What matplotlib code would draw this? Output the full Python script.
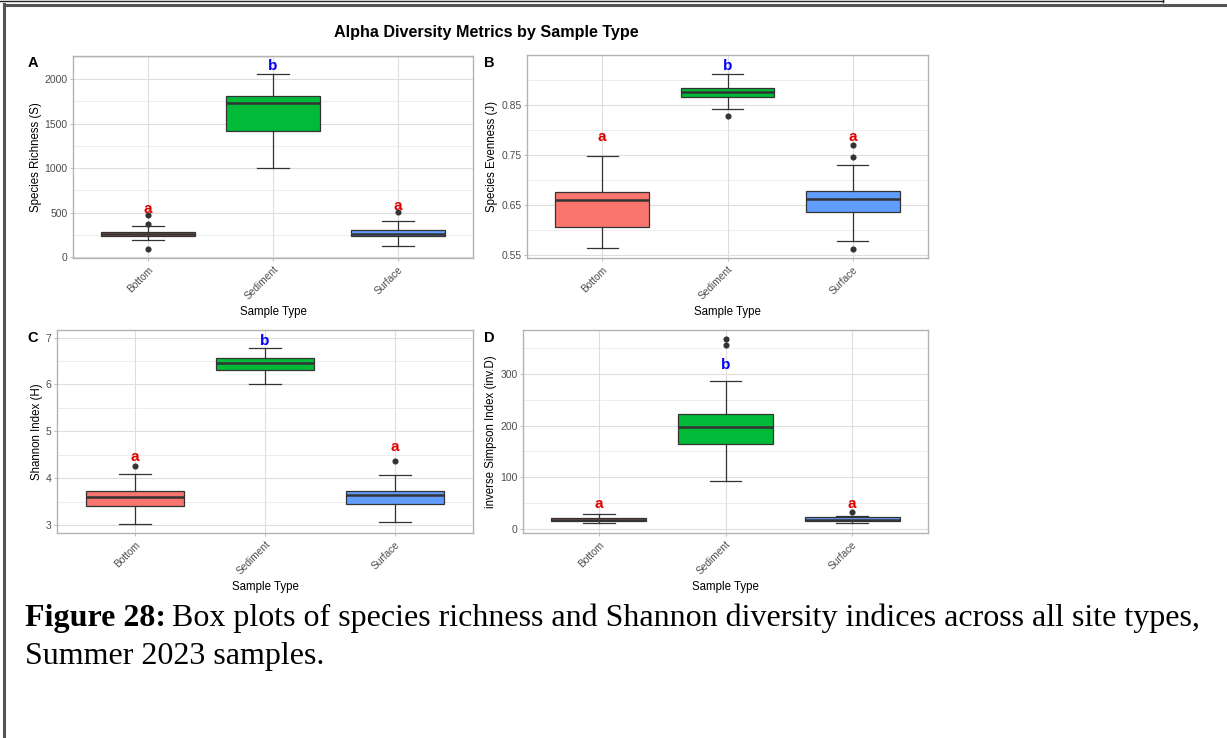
import matplotlib
matplotlib.use("Agg")
import matplotlib.pyplot as plt
from matplotlib.ticker import MultipleLocator
from matplotlib.lines import Line2D

W, H = 1227, 738

sample_types = ["Bottom", "Sediment", "Surface"]
fill_colors = ["#F8766D", "#00BA38", "#619CFF"]

# per-metric box statistics: q1, median, q3, lower whisker, upper whisker, outliers
richness_q1 = [232, 1412, 232]
richness_med = [255, 1730, 258]
richness_q3 = [277, 1809, 300]
richness_lo = [187, 997, 127]
richness_hi = [345, 2056, 404]
richness_out = [[90, 374, 472], [], [502]]
richness_letters = ["a", "b", "a"]
richness_letter_y = [545, 2150, 570]

evenness_q1 = [0.606, 0.865, 0.636]
evenness_med = [0.661, 0.875, 0.663]
evenness_q3 = [0.677, 0.883, 0.679]
evenness_lo = [0.565, 0.841, 0.579]
evenness_hi = [0.748, 0.911, 0.731]
evenness_out = [[], [0.828], [0.563, 0.746, 0.769]]
evenness_letters = ["a", "b", "a"]
evenness_letter_y = [0.786, 0.928, 0.786]

shannon_q1 = [3.40, 6.30, 3.45]
shannon_med = [3.60, 6.46, 3.64]
shannon_q3 = [3.72, 6.57, 3.73]
shannon_lo = [3.02, 6.00, 3.06]
shannon_hi = [4.09, 6.77, 4.07]
shannon_out = [[4.26], [], [4.37]]
shannon_letters = ["a", "b", "a"]
shannon_letter_y = [4.46, 6.92, 4.66]

invsimpson_q1 = [14.2, 164.7, 14.9]
invsimpson_med = [16.8, 197.7, 17.4]
invsimpson_q3 = [20.7, 223.5, 22.0]
invsimpson_lo = [10.3, 91.7, 10.3]
invsimpson_hi = [28.5, 286.8, 23.9]
invsimpson_out = [[], [356.0, 367.6], [31.6]]
invsimpson_letters = ["a", "b", "a"]
invsimpson_letter_y = [48, 317, 48]

letter_colors = {"a": "#E00000", "b": "#0000FF"}

plt.rcParams["font.family"] = ["Liberation Sans", "DejaVu Sans"]

fig = plt.figure(figsize=(W / 100, H / 100), dpi=100)
fig.patch.set_facecolor("white")


def px_axes(x0, y0, x1, y1):
    return fig.add_axes([x0 / W, 1 - y1 / H, (x1 - x0) / W, (y1 - y0) / H])


def draw_panel(ax, q1, med, q3, lo, hi, out, letters, letter_y,
               ylabel, ylim, major, minor, fmt=None):
    stats = []
    for i in range(3):
        stats.append(dict(q1=q1[i], med=med[i], q3=q3[i],
                          whislo=lo[i], whishi=hi[i], fliers=out[i]))
    pos = [1, 2, 3]
    bp = ax.bxp(stats, positions=pos, widths=0.75, capwidths=0.25,
                patch_artist=True, showfliers=True,
                boxprops=dict(edgecolor="#333333", linewidth=0.9),
                medianprops=dict(color="#333333", linewidth=1.8),
                whiskerprops=dict(color="#333333", linewidth=0.9),
                capprops=dict(color="#333333", linewidth=0.9),
                flierprops=dict(marker="o", markersize=3.4,
                                markerfacecolor="#333333",
                                markeredgecolor="#333333"),
                zorder=3)
    for patch, c in zip(bp["boxes"], fill_colors):
        patch.set_facecolor(c)
    for i, (lt, ly) in enumerate(zip(letters, letter_y)):
        ax.text(pos[i], ly, lt, color=letter_colors[lt], fontsize=11,
                fontweight="bold", ha="center", va="center", zorder=4)

    ax.set_xlim(0.4, 3.6)
    ax.set_ylim(*ylim)
    ax.yaxis.set_major_locator(MultipleLocator(major))
    ax.yaxis.set_minor_locator(MultipleLocator(minor))
    if fmt:
        ax.yaxis.set_major_formatter(fmt)
    ax.set_xticks(pos)
    ax.set_xticklabels(sample_types, rotation=45, ha="right", va="top",
                       rotation_mode="anchor", fontsize=7.3, color="#4D4D4D")
    ax.tick_params(axis="x", pad=2)
    ax.tick_params(axis="y", labelsize=7.5, labelcolor="#4D4D4D", pad=1.5)
    ax.tick_params(which="both", length=2.5, color="#B3B3B3", width=0.6)
    ax.tick_params(which="minor", length=0)
    ax.grid(which="major", color="#DEDEDE", linewidth=0.8)
    ax.grid(which="minor", axis="y", color="#E6E6E6", linewidth=0.5)
    ax.set_axisbelow(True)
    for s in ax.spines.values():
        s.set_color("#B3B3B3")
        s.set_linewidth(1.0)
    ax.set_ylabel(ylabel, fontsize=8.3, color="black", labelpad=2)
    ax.set_xlabel("Sample Type", fontsize=8.3, color="black", labelpad=3)


ax_a = px_axes(73, 56, 473, 258)
draw_panel(ax_a, richness_q1, richness_med, richness_q3, richness_lo,
           richness_hi, richness_out, richness_letters, richness_letter_y,
           "Species Richness (S)", (-10, 2258), 500, 250)

ax_b = px_axes(527, 55, 928, 258)
draw_panel(ax_b, evenness_q1, evenness_med, evenness_q3, evenness_lo,
           evenness_hi, evenness_out, evenness_letters, evenness_letter_y,
           "Species Evenness (J)", (0.545, 0.949), 0.1, 0.05,
           fmt=lambda v, p: f"{v:.2f}")
ax_b.set_yticks([0.55, 0.65, 0.75, 0.85])
ax_b.set_yticks([0.60, 0.70, 0.80, 0.90], minor=True)

ax_c = px_axes(57, 330, 473, 533)
draw_panel(ax_c, shannon_q1, shannon_med, shannon_q3, shannon_lo,
           shannon_hi, shannon_out, shannon_letters, shannon_letter_y,
           "Shannon Index (H)", (2.83, 7.16), 1, 0.5)

ax_d = px_axes(523, 330, 928, 533)
draw_panel(ax_d, invsimpson_q1, invsimpson_med, invsimpson_q3, invsimpson_lo,
           invsimpson_hi, invsimpson_out, invsimpson_letters,
           invsimpson_letter_y, "inverse Simpson Index (inv.D)",
           (-8.3, 385.7), 100, 50)

# panel tags and overall title
for tag, x, y in [("A", 33, 63), ("B", 489, 63), ("C", 33, 338), ("D", 489, 338)]:
    fig.text(x / W, 1 - y / H, tag, fontsize=10.5, fontweight="bold",
             ha="center", va="center")
fig.text(486 / W, 1 - 33 / H, "Alpha Diversity Metrics by Sample Type",
         fontsize=11.6, fontweight="bold", ha="center", va="center")

# caption
serif = ["Liberation Serif", "DejaVu Serif"]
cap_y = 1 - 626 / H
t1 = fig.text(25 / W, cap_y, "Figure 28:", fontsize=23, fontweight="bold",
              family=serif, ha="left", va="baseline")
fig.canvas.draw()
bb = t1.get_window_extent()
fig.text((bb.x1 + 6) / W, cap_y,
         "Box plots of species richness and Shannon diversity indices across all site types,",
         fontsize=23, family=serif, ha="left", va="baseline")
fig.text(25 / W, 1 - 664 / H, "Summer 2023 samples.", fontsize=23,
         family=serif, ha="left", va="baseline")

# page frame lines
frame = dict(color="#555555", transform=fig.transFigure, clip_on=False)
fig.add_artist(Line2D([3.5 / W, 3.5 / W], [0, 1 - 4 / H], linewidth=2.2, **frame))
fig.add_artist(Line2D([3.5 / W, 1], [1 - 4.5 / H, 1 - 4.5 / H], linewidth=2.2, **frame))
fig.add_artist(Line2D([0, 1163 / W], [1 - 1 / H, 1 - 1 / H], linewidth=1.0,
                      color="#222222", transform=fig.transFigure))
fig.add_artist(Line2D([1163 / W, 1163 / W], [1, 1 - 1.5 / H], linewidth=1.0,
                      color="#222222", transform=fig.transFigure))

fig.savefig("out.png", dpi=100)
